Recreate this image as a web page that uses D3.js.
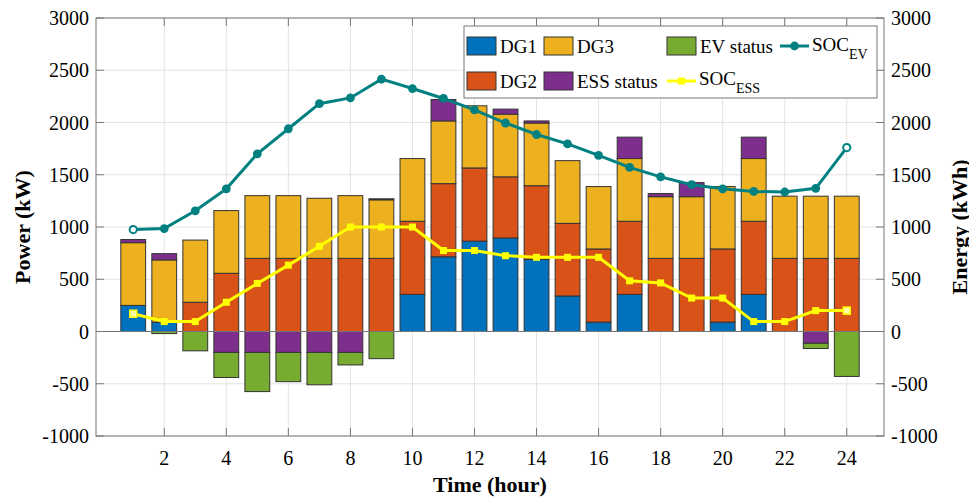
<!DOCTYPE html>
<head>
<meta charset="utf-8">
<title>Power and energy schedule</title>
<style>
body { margin: 0; background: #fff; }
text { font-family: "Liberation Serif", "Times New Roman", serif; fill: #000; }
.grid line { stroke: #e3e3e3; stroke-width: 1px; }
.bar { stroke: #333; stroke-width: 1px; }
</style>
</head>
<body>
<script src="https://cdn.jsdelivr.net/npm/d3@7"></script>
<script>

// hourly values
var hours = [1, 2, 3, 4, 5, 6, 7, 8, 9, 10, 11, 12, 13, 14, 15, 16, 17, 18, 19, 20, 21, 22, 23, 24];
var dg1 = [250, 90, 0, 0, 0, 0, 0, 0, 0, 355, 715, 865, 895, 690, 340, 90, 355, 0, 0, 90, 355, 0, 0, 0];
var dg2 = [0, 0, 280, 557, 700, 700, 700, 700, 700, 700, 700, 700, 585, 705, 695, 700, 700, 700, 700, 700, 700, 700, 700, 700];
var dg3 = [600, 595, 595, 600, 600, 600, 575, 600, 560, 600, 600, 595, 600, 600, 600, 597, 600, 590, 590, 597, 600, 595, 595, 595];
var ess = [30, 60, 0, -200, -200, -200, -200, -200, 10, 0, 205, 0, 48, 20, 0, 0, 205, 30, 135, 0, 205, 0, -113, 0];
var ev = [0, -20, -185, -240, -375, -280, -310, -120, -260, 0, 0, 0, 0, 0, 0, 0, 0, 0, 0, 0, 0, 0, -50, -430];
var socEV = [975, 985, 1155, 1365, 1700, 1940, 2180, 2235, 2415, 2325, 2230, 2120, 1995, 1885, 1795, 1685, 1570, 1480, 1405, 1365, 1340, 1335, 1370, 1760];
var socESS = [170, 95, 95, 280, 460, 635, 815, 1000, 1000, 1000, 775, 775, 725, 710, 710, 710, 485, 465, 320, 320, 95, 95, 200, 200];

var xTicks = [2, 4, 6, 8, 10, 12, 14, 16, 18, 20, 22, 24];
var yTicks = [-1000, -500, 0, 500, 1000, 1500, 2000, 2500, 3000];

var keys = ["DG1", "DG2", "DG3", "ESS status", "EV status"];
var colors = {"DG1": "#0072bd", "DG2": "#d95319", "DG3": "#edb120", "ESS status": "#7e2f8e", "EV status": "#77ac30"};
var teal = "#008080", yellow = "#ffff00";

var width = 969, height = 500;
var pL = 96, pR = 884, pT = 18, pB = 436;

var rows = hours.map(function(h, i) {
  return {hour: h, "DG1": dg1[i], "DG2": dg2[i], "DG3": dg3[i], "ESS status": ess[i], "EV status": ev[i]};
});

var x = d3.scaleLinear().domain([-0.2, 25.2]).range([pL, pR]);
var y = d3.scaleLinear().domain([-1000, 3000]).range([pB, pT]);
var y2 = d3.scaleLinear().domain([-1000, 3000]).range([pB, pT]);

var svg = d3.select("body").append("svg")
    .attr("width", width)
    .attr("height", height);

// grid
var grid = svg.append("g").attr("class", "grid");
grid.selectAll(".gx").data(xTicks).enter().append("line")
    .attr("x1", function(d) { return x(d); }).attr("x2", function(d) { return x(d); })
    .attr("y1", pT).attr("y2", pB);
grid.selectAll(".gy").data(yTicks).enter().append("line")
    .attr("x1", pL).attr("x2", pR)
    .attr("y1", function(d) { return y(d); }).attr("y2", function(d) { return y(d); });

// stacked bars
var stack = d3.stack().keys(keys).offset(d3.stackOffsetDiverging);
var series = stack(rows);
var bw = x(0.8) - x(0);

svg.append("g").selectAll("g")
    .data(series)
    .enter().append("g")
    .attr("fill", function(s) { return colors[s.key]; })
    .selectAll("rect")
    .data(function(s) { return s.filter(function(d) { return d[1] - d[0] != 0; }); })
    .enter().append("rect")
    .attr("class", "bar")
    .attr("x", function(d) { return x(d.data.hour) - bw / 2; })
    .attr("width", bw)
    .attr("y", function(d) { return y(Math.max(d[0], d[1])); })
    .attr("height", function(d) { return Math.abs(y(d[0]) - y(d[1])); });

// bar baseline
svg.append("line")
    .attr("x1", pL).attr("x2", pR)
    .attr("y1", y(0)).attr("y2", y(0))
    .style("stroke", "#777").style("stroke-width", 1);

// SOC lines
var line = d3.line()
    .x(function(d, i) { return x(hours[i]); })
    .y(function(d) { return y2(d); });

svg.append("path").datum(socEV)
    .attr("d", line)
    .style("fill", "none").style("stroke", teal).style("stroke-width", 3);
svg.append("g").selectAll("circle").data(socEV).enter().append("circle")
    .attr("cx", function(d, i) { return x(hours[i]); })
    .attr("cy", function(d) { return y2(d); })
    .attr("r", function(d, i) { return (i == 0 || i == hours.length - 1) ? 3.6 : 4.4; })
    .style("fill", function(d, i) { return (i == 0 || i == hours.length - 1) ? "#fff" : teal; })
    .style("stroke", teal).style("stroke-width", function(d, i) { return (i == 0 || i == hours.length - 1) ? 2 : 0; });

svg.append("path").datum(socESS)
    .attr("d", line)
    .style("fill", "none").style("stroke", yellow).style("stroke-width", 3);
svg.append("g").selectAll("rect").data(socESS).enter().append("rect")
    .attr("x", function(d, i) { return x(hours[i]) - 3.5; })
    .attr("y", function(d) { return y2(d) - 3.5; })
    .attr("width", 7).attr("height", 7)
    .style("fill", function(d, i) { return (i == 0 || i == hours.length - 1) ? "#ffffaa" : yellow; })
    .style("stroke", yellow).style("stroke-width", function(d, i) { return (i == 0 || i == hours.length - 1) ? 1.5 : 0; });

// axes box and inward ticks
svg.append("rect")
    .attr("x", pL).attr("y", pT)
    .attr("width", pR - pL).attr("height", pB - pT)
    .style("fill", "none").style("stroke", "#777").style("stroke-width", 1);

var ticks = svg.append("g").style("stroke", "#777").style("stroke-width", 1);
xTicks.forEach(function(t) {
  ticks.append("line").attr("x1", x(t)).attr("x2", x(t)).attr("y1", pB).attr("y2", pB - 8);
  ticks.append("line").attr("x1", x(t)).attr("x2", x(t)).attr("y1", pT).attr("y2", pT + 8);
});
yTicks.forEach(function(t) {
  ticks.append("line").attr("x1", pL).attr("x2", pL + 8).attr("y1", y(t)).attr("y2", y(t));
  ticks.append("line").attr("x1", pR).attr("x2", pR - 8).attr("y1", y2(t)).attr("y2", y2(t));
});

// tick labels
svg.append("g").selectAll("text").data(xTicks).enter().append("text")
    .attr("x", function(d) { return x(d); })
    .attr("y", 465)
    .attr("text-anchor", "middle")
    .style("font-size", "20px")
    .text(function(d) { return d; });
svg.append("g").selectAll("text").data(yTicks).enter().append("text")
    .attr("x", pL - 7)
    .attr("y", function(d) { return y(d); })
    .attr("dy", "0.35em")
    .attr("text-anchor", "end")
    .style("font-size", "20px")
    .text(function(d) { return d; });
svg.append("g").selectAll("text").data(yTicks).enter().append("text")
    .attr("x", pR + 7)
    .attr("y", function(d) { return y2(d); })
    .attr("dy", "0.35em")
    .attr("text-anchor", "start")
    .style("font-size", "20px")
    .text(function(d) { return d; });

// axis titles
svg.append("text")
    .attr("x", (pL + pR) / 2).attr("y", 492)
    .attr("text-anchor", "middle")
    .style("font-size", "22px").style("font-weight", "bold")
    .text("Time (hour)");
svg.append("text")
    .attr("transform", "translate(30," + (pT + pB) / 2 + ") rotate(-90)")
    .attr("text-anchor", "middle")
    .style("font-size", "22px").style("font-weight", "bold")
    .text("Power (kW)");
svg.append("text")
    .attr("transform", "translate(967," + (pT + pB) / 2 + ") rotate(-90)")
    .attr("text-anchor", "middle")
    .style("font-size", "22px").style("font-weight", "bold")
    .text("Energy (kWh)");

// legend
var lg = svg.append("g");
lg.append("rect")
    .attr("x", 464).attr("y", 26).attr("width", 413).attr("height", 72)
    .style("fill", "#fff").style("stroke", "#777").style("stroke-width", 1);

var patches = [
  {key: "DG1", x: 467, y: 37},
  {key: "DG3", x: 544, y: 37},
  {key: "EV status", x: 667, y: 37},
  {key: "DG2", x: 467, y: 72},
  {key: "ESS status", x: 544, y: 72}
];
patches.forEach(function(p) {
  lg.append("rect")
      .attr("x", p.x).attr("y", p.y).attr("width", 29).attr("height", 18)
      .attr("class", "bar")
      .style("fill", colors[p.key]);
  lg.append("text")
      .attr("x", p.x + 33).attr("y", p.y + 16)
      .style("font-size", "19px")
      .text(p.key);
});

// SOC_EV entry
lg.append("line").attr("x1", 780).attr("x2", 809).attr("y1", 46).attr("y2", 46)
    .style("stroke", teal).style("stroke-width", 3);
lg.append("circle").attr("cx", 794.5).attr("cy", 46).attr("r", 4.4).style("fill", teal);
var t1 = lg.append("text").attr("x", 812).attr("y", 51).style("font-size", "19px");
t1.append("tspan").text("SOC");
t1.append("tspan").attr("dy", 8).style("font-size", "14px").text("EV");

// SOC_ESS entry
lg.append("line").attr("x1", 667).attr("x2", 696).attr("y1", 81).attr("y2", 81)
    .style("stroke", yellow).style("stroke-width", 3);
lg.append("rect").attr("x", 678).attr("y", 77.5).attr("width", 7).attr("height", 7).style("fill", yellow);
var t2 = lg.append("text").attr("x", 699).attr("y", 85).style("font-size", "19px");
t2.append("tspan").text("SOC");
t2.append("tspan").attr("dy", 8).style("font-size", "14px").text("ESS");

</script>
</body>
</html>
